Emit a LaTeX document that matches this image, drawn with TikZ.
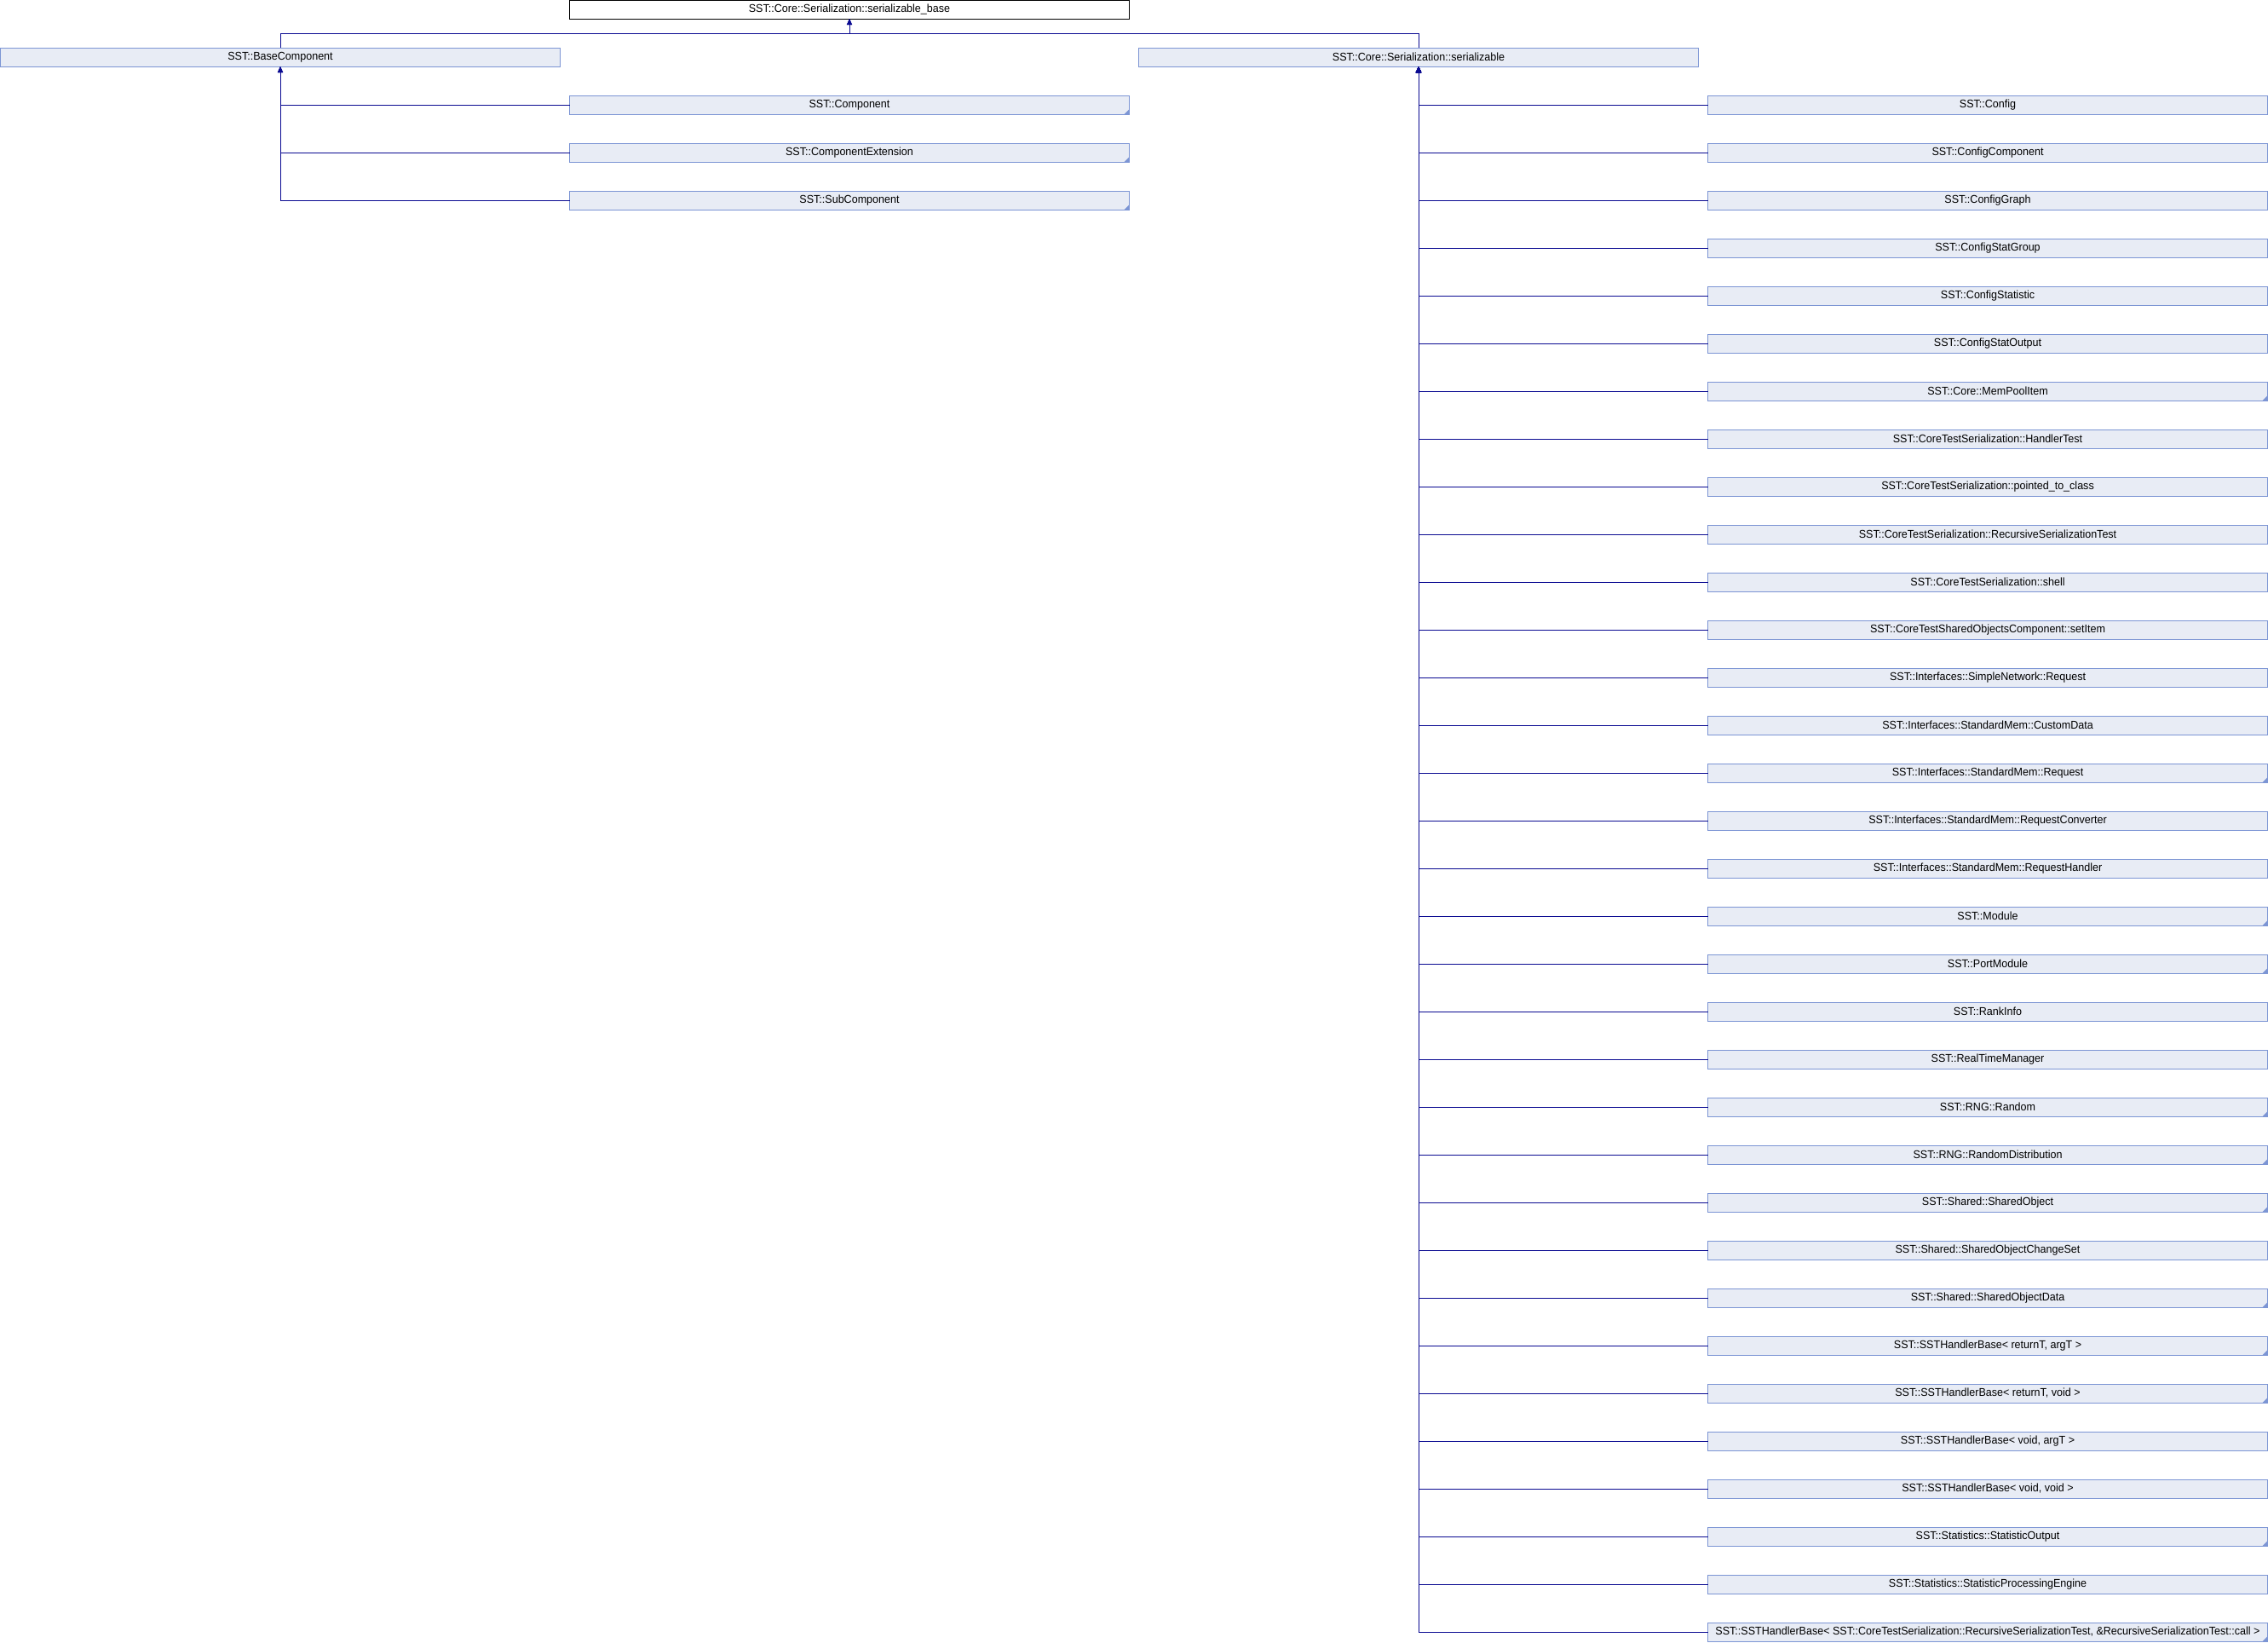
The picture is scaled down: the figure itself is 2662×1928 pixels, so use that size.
\documentclass[tikz,border=0pt]{standalone}
\usepackage{fontspec}
\setmainfont{Liberation Sans}[FakeStretch=0.95]
\usetikzlibrary{arrows.meta, positioning}
\definecolor{boxfill}{RGB}{232,236,245}
\definecolor{boxline}{RGB}{124,149,212}
\definecolor{linkblue}{RGB}{10,10,145}
\tikzset{
  classbox/.style={rectangle, minimum width=328.5pt, minimum height=11pt, inner sep=0pt, outer sep=0pt,
    text centered, draw=boxline, fill=boxfill, line width=0.5pt, font=\fontsize{6.6pt}{7pt}\selectfont},
  rootbox/.style={classbox, draw=black, fill=white},
  foldbox/.style={classbox, path picture={
    \fill[boxline] (path picture bounding box.south east) -- ++(-3pt,0) -- ++(3pt,3pt) -- cycle;}},
  arr/.style={-{Triangle[width=3pt, length=3.5pt]}, line width=0.5pt, draw=linkblue},
}

\begin{document}
\begin{tikzpicture}[x=0.5pt, y=-0.5pt]
  \useasboundingbox (0,0) rectangle (2662,1928);

  % Base classes
  \node[rootbox] (serbase) at (997,11) {SST::Core::Serialization::serializable\_base};
  \node[classbox] (basecomp) at (329,67) {SST::BaseComponent};
  \node[classbox] (ser) at (1665,67) {SST::Core::Serialization::serializable};

  % BaseComponent children
  \node[foldbox] (comp) at (997,123) {SST::Component};
  \node[foldbox, below=17pt of comp] (compext) {SST::ComponentExtension};
  \node[foldbox, below=17pt of compext] (subcomp) {SST::SubComponent};

  % serializable children
  \node[classbox] (cfg) at (2333,123) {SST::Config};
  \node[classbox, below=17pt of cfg] (cfgcomp) {SST::ConfigComponent};
  \node[classbox, below=17pt of cfgcomp] (cfggraph) {SST::ConfigGraph};
  \node[classbox, below=17pt of cfggraph] (cfgstatgrp) {SST::ConfigStatGroup};
  \node[classbox, below=17pt of cfgstatgrp] (cfgstat) {SST::ConfigStatistic};
  \node[classbox, below=17pt of cfgstat] (cfgstatout) {SST::ConfigStatOutput};
  \node[foldbox, below=17pt of cfgstatout] (mempool) {SST::Core::MemPoolItem};
  \node[classbox, below=17pt of mempool] (handlertest) {SST::CoreTestSerialization::HandlerTest};
  \node[classbox, below=17pt of handlertest] (pointed) {SST::CoreTestSerialization::pointed\_to\_class};
  \node[classbox, below=17pt of pointed] (recser) {SST::CoreTestSerialization::RecursiveSerializationTest};
  \node[classbox, below=17pt of recser] (shell) {SST::CoreTestSerialization::shell};
  \node[classbox, below=17pt of shell] (setitem) {SST::CoreTestSharedObjectsComponent::setItem};
  \node[classbox, below=17pt of setitem] (snreq) {SST::Interfaces::SimpleNetwork::Request};
  \node[classbox, below=17pt of snreq] (customdata) {SST::Interfaces::StandardMem::CustomData};
  \node[foldbox, below=17pt of customdata] (smreq) {SST::Interfaces::StandardMem::Request};
  \node[classbox, below=17pt of smreq] (reqconv) {SST::Interfaces::StandardMem::RequestConverter};
  \node[classbox, below=17pt of reqconv] (reqhandler) {SST::Interfaces::StandardMem::RequestHandler};
  \node[foldbox, below=17pt of reqhandler] (module) {SST::Module};
  \node[foldbox, below=17pt of module] (portmod) {SST::PortModule};
  \node[classbox, below=17pt of portmod] (rankinfo) {SST::RankInfo};
  \node[classbox, below=17pt of rankinfo] (rtmgr) {SST::RealTimeManager};
  \node[foldbox, below=17pt of rtmgr] (random) {SST::RNG::Random};
  \node[foldbox, below=17pt of random] (randdist) {SST::RNG::RandomDistribution};
  \node[foldbox, below=17pt of randdist] (sharedobj) {SST::Shared::SharedObject};
  \node[classbox, below=17pt of sharedobj] (changeset) {SST::Shared::SharedObjectChangeSet};
  \node[foldbox, below=17pt of changeset] (shareddata) {SST::Shared::SharedObjectData};
  \node[foldbox, below=17pt of shareddata] (hbretarg) {SST::SSTHandlerBase< returnT, argT >};
  \node[foldbox, below=17pt of hbretarg] (hbretvoid) {SST::SSTHandlerBase< returnT, void >};
  \node[classbox, below=17pt of hbretvoid] (hbvoidarg) {SST::SSTHandlerBase< void, argT >};
  \node[classbox, below=17pt of hbvoidarg] (hbvoidvoid) {SST::SSTHandlerBase< void, void >};
  \node[foldbox, below=17pt of hbvoidvoid] (statout) {SST::Statistics::StatisticOutput};
  \node[classbox, below=17pt of statout] (statproc) {SST::Statistics::StatisticProcessingEngine};
  \node[foldbox, below=17pt of statproc] (hbrecser) {SST::SSTHandlerBase< SST::CoreTestSerialization::RecursiveSerializationTest, \&RecursiveSerializationTest::call >};

  % Arrows
  \draw[arr] (basecomp.north) -- ++(0,8.5pt) -| (serbase.south);
  \draw[arr] (ser.north) -- ++(0,8.5pt) -| (serbase.south);
  \draw[arr] (comp.west) -| (basecomp.south);
  \draw[arr] (compext.west) -| (basecomp.south);
  \draw[arr] (subcomp.west) -| (basecomp.south);
  \foreach \kid in {cfg, cfgcomp, cfggraph, cfgstatgrp, cfgstat, cfgstatout, mempool, handlertest,
      pointed, recser, shell, setitem, snreq, customdata, smreq, reqconv, reqhandler, module,
      portmod, rankinfo, rtmgr, random, randdist, sharedobj, changeset, shareddata, hbretarg,
      hbretvoid, hbvoidarg, hbvoidvoid, statout, statproc, hbrecser}
    \draw[arr] (\kid.west) -| (ser.south);
\end{tikzpicture}
\end{document}
